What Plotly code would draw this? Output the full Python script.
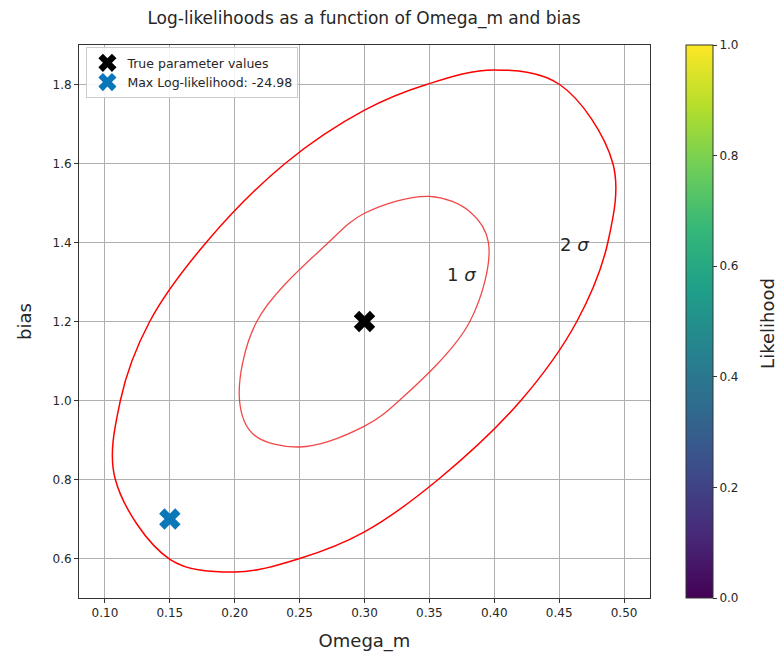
import plotly.graph_objects as go

# ---- data ----
true_omega = [0.30]
true_bias = [1.20]
max_omega = [0.15]
max_bias = [0.70]
max_loglike = -24.98

# 1-sigma contour (traced points, clockwise from the left)
sig1_omega = [0.2037, 0.217, 0.2722, 0.300, 0.350, 0.3812, 0.3955, 0.3812, 0.3268, 0.300,
              0.250, 0.2145, 0.2037]
sig1_bias = [1.000, 1.200, 1.400, 1.474, 1.5167, 1.478, 1.400, 1.200, 1.000, 0.935,
             0.8823, 0.914, 1.000]

# 2-sigma contour (traced points, clockwise from the left)
sig2_omega = [0.1119, 0.1345, 0.178, 0.2388, 0.300, 0.3478, 0.400, 0.4504, 0.4914, 0.4875,
              0.4636, 0.4205, 0.3568, 0.300, 0.250, 0.200, 0.150, 0.108, 0.1119]
sig2_bias = [1.000, 1.200, 1.400, 1.600, 1.735, 1.800, 1.837, 1.800, 1.600, 1.400,
             1.200, 1.000, 0.800, 0.6675, 0.600, 0.5656, 0.598, 0.800, 1.000]

label_text = ["1 <i>σ</i>", "2 <i>σ</i>"]
label_omega = [0.375, 0.462]
label_bias = [1.32, 1.394]

cbar_vals = [0.0, 1.0]
cbar_ticks = [0.0, 0.2, 0.4, 0.6, 0.8, 1.0]

FONT = "DejaVu Sans"
TXT = "#262626"

PL, PR, PT, PB = 78.5, 650.0, 45.0, 598.0
PW = PR - PL
PH = PB - PT

fig = go.Figure()

fig.add_trace(go.Scatter(x=sig2_omega, y=sig2_bias, mode="lines",
                         line=dict(color="#ff0000", width=1.5, shape="spline", smoothing=1.0),
                         showlegend=False, hoverinfo="skip"))
fig.add_trace(go.Scatter(x=sig1_omega, y=sig1_bias, mode="lines",
                         line=dict(color="rgba(240,40,40,0.85)", width=1.3, shape="spline", smoothing=1.0),
                         showlegend=False, hoverinfo="skip"))

# invisible trace carrying the colorbar
fig.add_trace(go.Scatter(x=true_omega * 2, y=true_bias * 2, mode="markers",
                         marker=dict(color=cbar_vals, colorscale="Viridis", cmin=0, cmax=1,
                                     opacity=0, size=1, showscale=True,
                                     colorbar=dict(
                                         x=(686 - PL) / PW, xanchor="left", xpad=0,
                                         y=0.5, yanchor="middle", ypad=0,
                                         len=1, lenmode="fraction", thickness=27,
                                         outlinewidth=1, outlinecolor="#333333",
                                         ticks="outside", ticklen=4, tickcolor="#333333",
                                         tickvals=cbar_ticks, tickformat=".1f",
                                         tickfont=dict(family=FONT, size=12, color=TXT),
                                     )),
                         showlegend=False, hoverinfo="skip"))

fig.add_trace(go.Scatter(x=true_omega, y=true_bias, mode="markers", name="True parameter values",
                         marker=dict(symbol="x", size=19, color="black", line=dict(width=0))))
fig.add_trace(go.Scatter(x=max_omega, y=max_bias, mode="markers",
                         name=f"Max Log-likelihood: {max_loglike:.2f}",
                         marker=dict(symbol="x", size=19, color="#0a77b8", line=dict(width=0))))

for t, xx, yy in zip(label_text, label_omega, label_bias):
    fig.add_annotation(x=xx, y=yy, text=t, showarrow=False,
                       font=dict(family=FONT, size=18, color=TXT))

# colorbar title
fig.add_annotation(xref="paper", yref="paper", x=(767 - PL) / PW, y=(PB - 323) / PH,
                   text="Likelihood", textangle=-90, showarrow=False,
                   xanchor="center", yanchor="middle",
                   font=dict(family=FONT, size=18, color=TXT))

axis_common = dict(showgrid=True, gridcolor="#b0b0b0", gridwidth=0.8,
                   showline=True, linecolor="#333333", linewidth=1, mirror=True,
                   ticks="outside", ticklen=4, tickcolor="#333333", zeroline=False,
                   tickfont=dict(family=FONT, size=12, color=TXT))

fig.update_xaxes(range=[0.08, 0.52], dtick=0.05, tick0=0.1, tickformat=".2f",
                 title=dict(text="Omega_m", font=dict(family=FONT, size=18, color=TXT), standoff=14),
                 **axis_common)
fig.update_yaxes(range=[0.5, 1.9], dtick=0.2, tick0=0.6, tickformat=".1f",
                 title=dict(text="bias", font=dict(family=FONT, size=18, color=TXT), standoff=16),
                 **axis_common)

fig.update_layout(
    width=779, height=656,
    margin=dict(l=PL, r=779 - PR, t=PT, b=656 - PB, autoexpand=False),
    paper_bgcolor="white", plot_bgcolor="white",
    font=dict(family=FONT, color=TXT),
    title=dict(text="Log-likelihoods as a function of Omega_m and bias",
               x=364 / 779, xanchor="center", y=1 - 18 / 656, yanchor="middle",
               font=dict(family=FONT, size=17, color=TXT)),
    legend=dict(x=0.013, y=0.996, xanchor="left", yanchor="top",
                bgcolor="rgba(255,255,255,0.85)", bordercolor="#cccccc", borderwidth=1,
                font=dict(family=FONT, size=12.5, color=TXT), tracegroupgap=0),
    showlegend=True,
)

fig.write_html("out.html")
